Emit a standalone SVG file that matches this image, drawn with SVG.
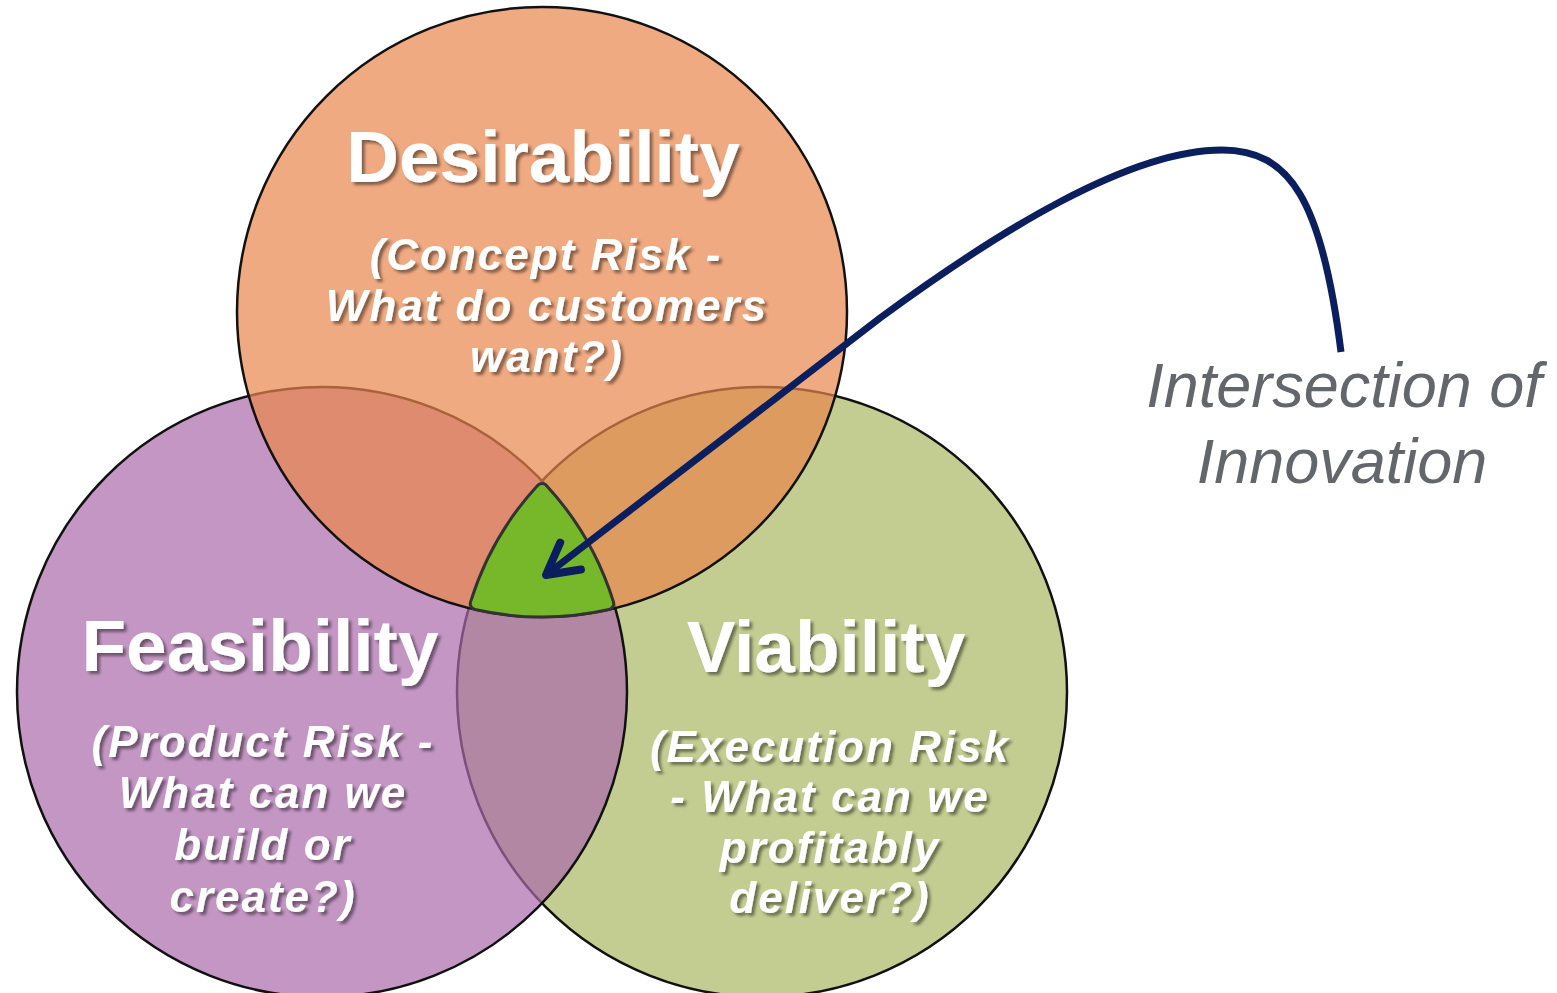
<svg xmlns="http://www.w3.org/2000/svg" width="1557" height="993" viewBox="0 0 1557 993">
  <style>
    .ring { stroke: #111; stroke-width: 2.5; fill-opacity: 0.7; }
    .title { font-family: "Liberation Sans", Arial, sans-serif; font-weight: bold; font-size: 73px; fill: #fff; text-anchor: middle; }
    .sub { font-family: "Liberation Sans", Arial, sans-serif; font-weight: bold; font-style: italic; font-size: 44px; letter-spacing: 2px; fill: #fff; text-anchor: middle; }
    .note { font-family: "Liberation Sans", Arial, sans-serif; font-style: italic; font-size: 63px; fill: #63666a; text-anchor: middle; }
    .link { fill: none; stroke: #0b1f5e; stroke-width: 7; }
  </style>
  <defs>
    <filter id="txtShadow" x="-10%" y="-20%" width="120%" height="150%">
      <feDropShadow dx="3" dy="3" stdDeviation="1.5" flood-color="#000" flood-opacity="0.45"/>
    </filter>
    <marker id="chevron" markerUnits="userSpaceOnUse" markerWidth="70" markerHeight="70" viewBox="-50 -35 70 70" refX="0" refY="0" orient="auto">
      <path d="M -31 -17 L 0 0 L -31 17" fill="none" stroke="#0b1f5e" stroke-width="8" stroke-linecap="round" stroke-linejoin="round"/>
    </marker>
    <!-- triple overlap, inset so a round-joined stroke rebuilds the outer edge with soft corners -->
    <path id="coreInset" d="M 542 489.5 A 299 299 0 0 1 607.7 603.7 A 299 299 0 0 1 476.3 603.7 A 299 299 0 0 1 542 489.5 Z"/>
  </defs>

  <rect width="1557" height="993" fill="#fff"/>

  <!-- Viability (bottom layer) -->
  <g id="viability">
    <circle class="ring" cx="762" cy="692" r="305" fill="#a9b862"/>
  </g>

  <!-- Feasibility -->
  <g id="feasibility">
    <circle class="ring" cx="322" cy="692" r="305" fill="#ab6aab"/>
  </g>

  <!-- Desirability (top layer) -->
  <g id="desirability">
    <circle class="ring" cx="542" cy="312" r="305" fill="#ea864c"/>
  </g>

  <!-- Triple overlap -->
  <g id="innovation-core">
    <use href="#coreInset" fill="#333" stroke="#333" stroke-width="15" stroke-linejoin="round"/>
    <use href="#coreInset" fill="#77b82a" stroke="#77b82a" stroke-width="9" stroke-linejoin="round"/>
  </g>

  <!-- Labels -->
  <g id="desirability-label" filter="url(#txtShadow)">
    <text class="title" x="543" y="182">Desirability</text>
    <text class="sub" x="546" y="270">(Concept Risk -</text>
    <text class="sub" x="547" y="321">What do customers</text>
    <text class="sub" x="547" y="372">want?)</text>
  </g>

  <g id="feasibility-label" filter="url(#txtShadow)">
    <text class="title" x="260" y="671">Feasibility</text>
    <text class="sub" x="263" y="757">(Product Risk -</text>
    <text class="sub" x="263" y="808">What can we</text>
    <text class="sub" x="263" y="860">build or</text>
    <text class="sub" x="263" y="912">create?)</text>
  </g>

  <g id="viability-label" filter="url(#txtShadow)">
    <text class="title" x="826" y="672">Viability</text>
    <text class="sub" x="830" y="762">(Execution Risk</text>
    <text class="sub" x="830" y="812">- What can we</text>
    <text class="sub" x="830" y="863">profitably</text>
    <text class="sub" x="830" y="913">deliver?)</text>
  </g>

  <g id="innovation-note">
    <text class="note" x="1344" y="407">Intersection of</text>
    <text class="note" x="1342" y="483">Innovation</text>
  </g>

  <!-- Connectors -->
  <g id="connectors">
    <path class="link" d="M 1341 352 C 1322 200 1290 150 1222 150 C 1130 150 1000 230 880 318 L 546 575" marker-end="url(#chevron)"/>
  </g>
</svg>
